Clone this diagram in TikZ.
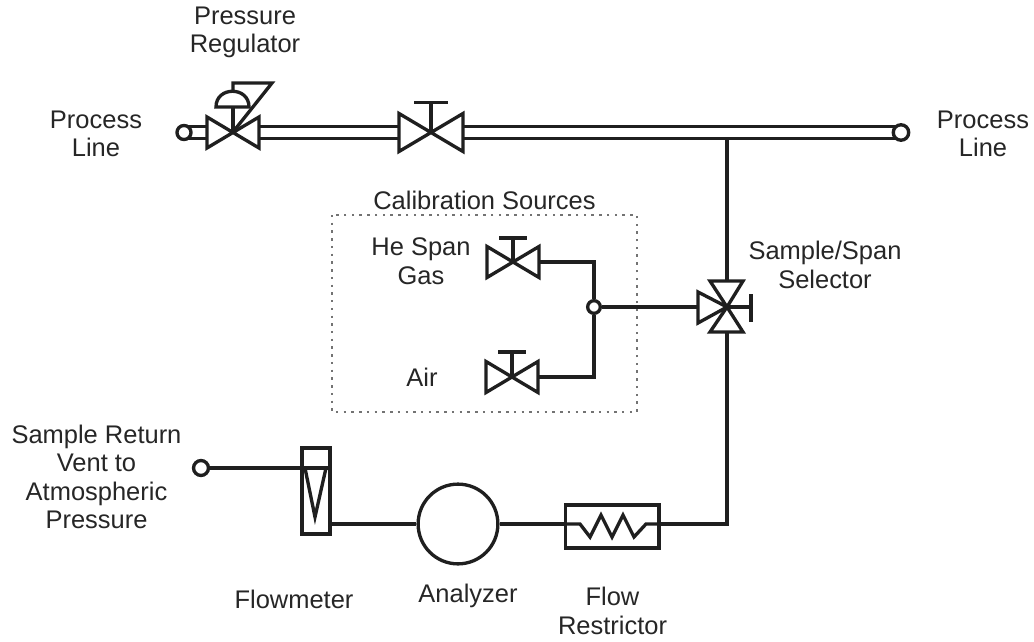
\documentclass[tikz,border=0pt]{standalone}
\usepackage{fontspec}
\usetikzlibrary{backgrounds}
\setmainfont{Liberation Sans}
\tikzset{
  line/.style={line width=1.9pt,line join=miter,black!88},
  pipe/.style={line width=1.7pt,double,double distance=4.7pt,black!88},
  port/.style={draw=black!88,circle,fill=white,line width=1.9pt,inner sep=0pt,minimum size=#1},
  lbl/.style={align=center,inner sep=0pt,font=\fontsize{14.5}{16.2}\selectfont,text=black!85},
  pics/valvebody/.style n args={2}{code={
    \draw[line] (0,0) -- (-#1,-#2) -- (-#1,#2) -- (#1,-#2) -- (#1,#2) -- cycle;
    \coordinate (-l) at (-#1,0);
    \coordinate (-r) at (#1,0);
  }},
  pics/handvalve/.style n args={4}{code={
    \pic (-b) at (0,0) {valvebody={#1}{#2}};
    \draw[line] (0,0) -- (0,-#3) (-#4,-#3) -- (#4,-#3);
    \coordinate (-l) at (-#1,0);
    \coordinate (-r) at (#1,0);
  }}
}
\begin{document}
\begin{tikzpicture}[x=0.02cm,y=-0.02cm]
\useasboundingbox (0,0) rectangle (1034,642);

\draw[black!55,line width=0.7pt,dash pattern=on 1.4pt off 3pt] (332,215) rectangle (637,412);

\pic (reg) at (233,132.5) {valvebody={26}{15.5}};
\pic (main) at (431,132.5) {handvalve={32}{19}{30}{17}};
\pic (he) at (513,262) {handvalve={26}{15.5}{24}{14}};
\pic (air) at (512,377) {handvalve={26}{15.5}{25}{14}};

% regulator head
\draw[line] (233,132) -- (233,107);
\draw[line] (216,107) .. controls (216,86) and (249,86) .. (249,107) -- cycle;
\draw[line] (233,91) -- (233,83) -- (272,83) -- (233,132);

% selector
\coordinate (sel) at (727,307);
\coordinate (seltop) at (727,281);
\coordinate (selbot) at (727,332);
\coordinate (selleft) at (698,307);
\coordinate (selhandle) at (751,307);
\draw[line] (sel) -- (710,281) -- (743,281) -- cycle;
\draw[line] (sel) -- (710,332) -- (743,332) -- cycle;
\draw[line] (sel) -- (698,292) -- (698,323) -- cycle;
\draw[line] (sel) -- (selhandle) (751,294) -- (751,322);

\node[draw,line,minimum width=16pt,minimum height=48.8pt,inner sep=0pt] (flow) at (316,491) {};
\node[draw,circle,line,minimum size=45.4pt,inner sep=0pt] (ana) at (458,524) {};
\node[draw,line,minimum width=53.3pt,minimum height=24.4pt,inner sep=0pt] (rest) at (612,526.5) {};

\node[port=8pt] (procin) at (184,132.5) {};
\node[port=8.8pt] (procout) at (901,132.5) {};
\node[port=7.2pt] (join) at (594,307) {};
\node[port=8.5pt] (vent) at (201,468) {};

\coordinate (tee) at (727,138);
\coordinate (corner) at (727,524);
\coordinate (flowin) at (302,468);
\coordinate (flowout) at (330,524);
\coordinate (restin) at (565,524);
\coordinate (restout) at (659,524);
\coordinate (zigin) at (580,524);
\coordinate (zigout) at (646,524);
\coordinate (hecorner) at (594,262);
\coordinate (aircorner) at (594,377);

% flowmeter float
\draw[line] (305,468) -- (326,468) -- (315,517) -- cycle;
\draw[line] (flowin) -- (330,468);

\begin{scope}[on background layer]
\draw[pipe] (reg-r) -- (main-l);
\draw[pipe,shorten >=-4pt] (main-r) -- (procout);
\draw[pipe,shorten <=-4pt] (procin) -- (reg-l);
\end{scope}
\draw[line] (tee) -- (seltop);
\draw[line] (selbot) -- (corner) -- (restout);
\draw[line] (he-r) -- (hecorner) -- (join);
\draw[line] (air-r) -- (aircorner) -- (join);
\draw[line] (join) -- (selleft);
\draw[line] (vent) -- (flowin);
\draw[line] (flowout) -- (ana);
\draw[line] (ana) -- (restin);
\draw[line] (restin) -- (zigin) -- (590,537) -- (601,515) -- (612,537) -- (623,515) -- (634,537) -- (zigout) -- (restout);

\node[lbl] (reglabel) at (245,32.5) {Pressure\\Regulator};
\node[lbl] (inlabel) at (96,134) {Process\\Line};
\node[lbl] (outlabel) at (983,134) {Process\\Line};
\node[lbl] (callabel) at (484.5,200) {Calibration Sources};
\node[lbl] (helabel) at (421,261) {He Span\\Gas};
\node[lbl] (airlabel) at (422,377) {Air};
\node[lbl] (sellabel) at (825,265) {Sample/Span\\Selector};
\node[lbl] (ventlabel) at (96.5,477) {Sample Return\\Vent to\\Atmospheric\\Pressure};
\node[lbl] (flowlabel) at (294,599) {Flowmeter};
\node[lbl] (analabel) at (468,596) {Analyzer};
\node[lbl] (restlabel) at (612.5,611) {Flow\\Restrictor};
\end{tikzpicture}
\end{document}
